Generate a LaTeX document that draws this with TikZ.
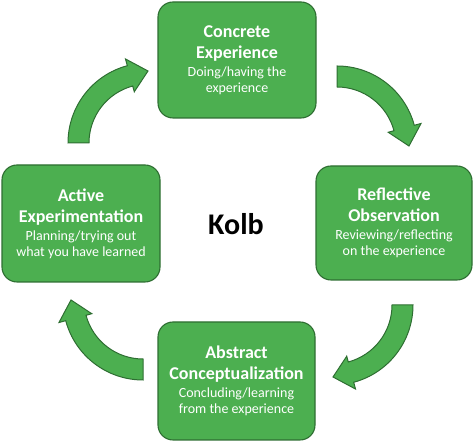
\documentclass[tikz,border=0pt]{standalone}
\usepackage{fontspec}
\setmainfont{Carlito}
\definecolor{boxgreen}{RGB}{76,175,80}
\definecolor{edgegreen}{RGB}{46,110,50}
\newcommand{\ttl}[1]{{\fontsize{18}{16}\selectfont\bfseries #1}}
\tikzset{
  stagebox/.style={draw=edgegreen, line width=1.1pt, fill=boxgreen, rounded corners=15pt,
    text=white, align=center, font=\fontsize{14}{16}\selectfont, inner sep=0pt},
  cyclearrow/.style={draw=edgegreen, line width=1pt, fill=boxgreen, line join=miter}
}
\newcommand{\cyclearrowat}[3]{%
  \begin{scope}[shift={(#1,#2)}]
    \draw[cyclearrow] (#3:80pt) arc[start angle=#3, end angle=#3-75, radius=80pt]
      -- (#3-75:87pt) -- (#3-90:72pt) -- (#3-75:53pt) -- (#3-75:59pt)
      arc[start angle=#3-75, end angle=#3, radius=59pt] -- cycle;
  \end{scope}}
\begin{document}
\begin{tikzpicture}[x=1pt,y=1pt]
\useasboundingbox (0,0) rectangle (474,441);
% curved block arrows
\cyclearrowat{148}{298}{180}
\cyclearrowat{337}{295}{90}
\cyclearrowat{333}{136}{0}
\cyclearrowat{143}{141}{270}
% stages
\node[stagebox, minimum width=158pt, minimum height=116pt] (ce) at (237,381)
  {\ttl{Concrete}\\[5pt]\ttl{Experience}\\[2pt]Doing/having the\\experience};
\node[stagebox, minimum width=156pt, minimum height=114pt] (ro) at (394,218)
  {\ttl{Reflective}\\[5pt]\ttl{Observation}\\[2pt]Reviewing/reflecting\\on the experience};
\node[stagebox, minimum width=157pt, minimum height=118pt] (ac) at (236.5,60)
  {\ttl{Abstract}\\[5pt]\ttl{Conceptualization}\\[2pt]Concluding/learning\\from the experience};
\node[stagebox, minimum width=158pt, minimum height=117pt] (ae) at (81,217.5)
  {\ttl{Active}\\[5pt]\ttl{Experimentation}\\[2pt]Planning/trying out\\what you have learned};
\node[font=\fontsize{30}{36}\selectfont\bfseries] (kolb) at (236,217) {Kolb};
\end{tikzpicture}
\end{document}
